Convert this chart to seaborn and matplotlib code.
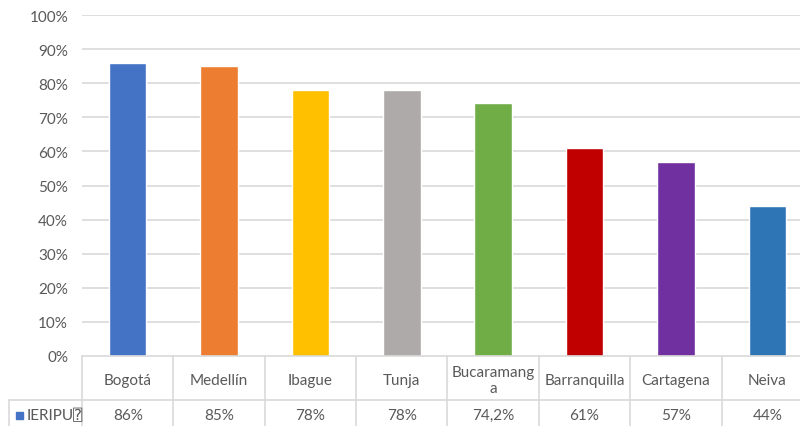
import matplotlib
matplotlib.use("Agg")
import matplotlib.pyplot as plt
import matplotlib.transforms as mtransforms
import seaborn as sns
import pandas as pd

cities = ["Bogotá", "Medellín", "Ibague", "Tunja", "Bucaramanga",
          "Barranquilla", "Cartagena", "Neiva"]
cell_labels = ["Bogotá", "Medellín", "Ibague", "Tunja", "Bucaramang\na",
               "Barranquilla", "Cartagena", "Neiva"]
values = [86, 85, 78, 78, 74.2, 61, 57, 44]
value_labels = ["86%", "85%", "78%", "78%", "74,2%", "61%", "57%", "44%"]
series_name = "IERIPU\u2370"
colors = ["#4472C4", "#ED7D31", "#FFC000", "#AEAAAA", "#70AD47",
          "#C00000", "#7030A0", "#2E75B6"]
yticks = [0, 10, 20, 30, 40, 50, 60, 70, 80, 90, 100]

sns.set_theme(style="white")
plt.rcParams["font.family"] = ["Lato", "DejaVu Sans"]
text_col = "#595959"
grid_col = "#D9D9D9"
fs = 11

W, H = 800, 427
fig = plt.figure(figsize=(W / 100, H / 100), dpi=100)
ax = fig.add_axes([82 / W, (H - 357) / H, (813 - 82) / W, (357 - 16) / H])

df = pd.DataFrame({"city": cities, "value": values})
sns.barplot(data=df, x="city", y="value", hue="city", palette=colors,
            width=0.41, legend=False, ax=ax, saturation=1)

ax.set_ylim(0, 100)
ax.set_xlim(-0.5, len(cities) - 0.5)
ax.set_yticks(yticks)
ax.set_yticklabels([f"{t}%" for t in yticks], color=text_col, fontsize=fs)
ax.tick_params(axis="y", length=0, pad=10)
ax.set_xticks([])
ax.set_xlabel("")
ax.set_ylabel("")
for t in yticks[1:]:
    ax.axhline(t, color=grid_col, lw=1.2, zorder=0)
for s in ["top", "right", "left"]:
    ax.spines[s].set_visible(False)
ax.spines["bottom"].set_color(grid_col)
ax.spines["bottom"].set_linewidth(1.2)

# data table under the chart
trans = mtransforms.blended_transform_factory(ax.transData, fig.transFigure)
y_top = (H - 357) / H
y_mid = (H - 401) / H
for i in range(len(cities) + 1):
    ax.plot([i - 0.5, i - 0.5], [y_top, 0], transform=trans, color=grid_col,
            lw=1.2, clip_on=False)
ax.plot([-0.5, len(cities) - 0.5], [y_mid, y_mid], transform=trans,
        color=grid_col, lw=1.2, clip_on=False)
fig.add_artist(plt.Line2D([9 / W, 82 / W], [y_mid, y_mid], color=grid_col, lw=1.2))
fig.add_artist(plt.Line2D([9 / W, 9 / W], [y_mid, 0], color=grid_col, lw=1.2))

for i, (lab, vl) in enumerate(zip(cell_labels, value_labels)):
    ax.text(i, (H - 381) / H, lab, transform=trans, ha="center", va="center",
            color=text_col, fontsize=fs, linespacing=1.2)
    ax.text(i, (H - 416) / H, vl, transform=trans, ha="center", va="center",
            color=text_col, fontsize=fs)

fig.add_artist(plt.Rectangle((16 / W, (H - 420) / H), 7 / W, 7 / H,
                             color=colors[0], transform=fig.transFigure))
fig.text(27 / W, (H - 416) / H, series_name, ha="left", va="center",
         color=text_col, fontsize=fs,
         family=["Lato", "DejaVu Sans Mono", "DejaVu Sans"])

fig.savefig("out.png", dpi=100)
